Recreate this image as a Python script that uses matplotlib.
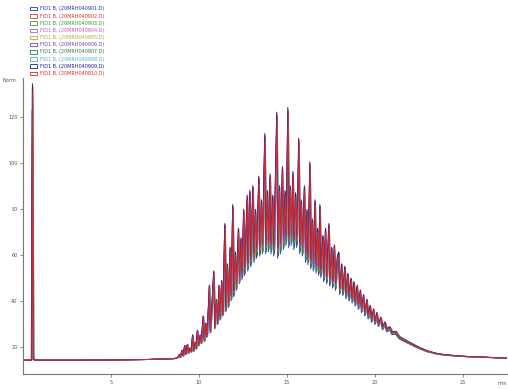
import matplotlib.pyplot as plt
from matplotlib.patches import Patch
import numpy as np

# retention time (min) and detector signal (Norm.)
t = [0.0, 0.45, 0.5, 0.55, 0.6, 0.65, 1.0, 3.0, 5.0, 7.0, 8.0, 8.6, 8.8, 8.9, 8.95,
     9.05, 9.12, 9.2, 9.28, 9.35, 9.42, 9.5, 9.58, 9.65, 9.72, 9.8, 9.86, 9.92,
     10.0, 10.08, 10.15, 10.25, 10.32, 10.4, 10.47, 10.55, 10.6, 10.66, 10.75,
     10.85, 10.92, 11.0, 11.08, 11.15, 11.22, 11.3, 11.38, 11.48, 11.55, 11.62,
     11.7, 11.78, 11.85, 11.93, 12.0, 12.08, 12.15, 12.25, 12.32, 12.4, 12.47,
     12.55, 12.62, 12.7, 12.75, 12.8, 12.9, 12.97, 13.07, 13.15, 13.22, 13.3,
     13.41, 13.48, 13.56, 13.63, 13.75, 13.82, 13.9, 13.97, 14.05, 14.12, 14.2,
     14.28, 14.35, 14.43, 14.5, 14.58, 14.65, 14.75, 14.82, 14.9, 14.97, 15.06,
     15.13, 15.2, 15.27, 15.35, 15.42, 15.5, 15.58, 15.68, 15.75, 15.82, 15.9,
     16.0, 16.08, 16.15, 16.22, 16.31, 16.38, 16.45, 16.52, 16.6, 16.68, 16.75,
     16.82, 16.88, 16.95, 17.05, 17.12, 17.2, 17.28, 17.39, 17.46, 17.55, 17.62,
     17.7, 17.78, 17.87, 17.95, 18.02, 18.12, 18.2, 18.3, 18.38, 18.47, 18.55,
     18.65, 18.73, 18.82, 18.9, 19.0, 19.08, 19.18, 19.26, 19.36, 19.45, 19.55,
     19.64, 19.74, 19.83, 19.93, 20.02, 20.12, 20.22, 20.35, 20.45, 20.58, 20.7,
     20.85, 21.0, 21.2, 21.4, 21.7, 22.0, 22.5, 23.0, 23.5, 24.0, 24.5, 25.0,
     25.5, 26.0, 26.5, 27.0, 27.5]
signal = [14.3, 14.3, 14.6, 131, 15.5, 14.4, 14.3, 14.3, 14.4, 14.6, 14.8, 15.0, 15.4, 16.8, 15.6,
          18.5, 16.2, 20.5, 17.0, 21, 17.5, 19.5, 18.0, 25, 18.5, 22, 19.5, 27,
          21, 25, 22, 33, 23, 30, 25, 37, 46, 27, 38,
          52, 29, 40, 31, 46, 33, 48, 35, 72, 37, 55,
          39, 62, 42, 80, 44, 60, 47, 70, 50, 66, 52,
          78, 54, 72, 84, 56, 86, 58, 88, 60, 78, 62,
          92, 63, 82, 64, 110, 64, 86, 65, 93, 64, 84,
          63, 90, 119, 62, 88, 64, 96, 66, 86, 68, 121,
          67, 88, 68, 94, 66, 85, 67, 108, 64, 82, 63,
          88, 60, 78, 59, 98, 57, 74, 56, 82, 55, 70,
          54, 80, 53, 67, 51, 70, 50, 72, 49, 62, 48,
          63, 47, 58, 60, 45, 55, 44.5, 54, 43, 51, 42,
          49, 41, 47.5, 39.5, 46, 38, 44, 36.5, 42, 35, 40,
          33.5, 37.5, 32, 36, 31, 34.5, 30, 32.5, 28.5, 30.5, 27.5,
          28.5, 26.2, 26.5, 24.3, 23, 21.8, 19.8, 18.2, 17.2, 16.6, 16.3, 16.0,
          15.8, 15.7, 15.5, 15.35, 15.25]

files = ["20MRH040901.D", "20MRH040902.D", "20MRH040903.D", "20MRH040904.D",
         "20MRH040905.D", "20MRH040906.D", "20MRH040907.D", "20MRH040908.D",
         "20MRH040909.D", "20MRH040910.D"]
colors = ["#2a2ad0", "#e83030", "#30a030", "#d050c8", "#b0b030",
          "#7a40c8", "#2f7a40", "#50b0d8", "#202088", "#e02828"]
# run-to-run response and retention differences
scale = [0.93, 1.02, 0.96, 1.00, 0.97, 1.01, 0.95, 0.99, 1.03, 1.0]
shift = [-0.03, 0.015, 0.0, -0.01, 0.02, -0.02, 0.01, 0.025, -0.015, 0.0]

tt = np.array(t)
ss = np.array(signal)
base = 14.3

fig = plt.figure(figsize=(5.08, 3.9), dpi=100)
ax = fig.add_axes([23/508, 1 - 374/390, 484/508, 296/390])

for i in range(len(files)):
    ax.plot(tt + shift[i], base + (ss - base) * scale[i], color=colors[i], lw=0.7)

ax.set_xlim(0, 27.5)
ax.set_ylim(8.3, 137)
ax.set_xticks([5, 10, 15, 20, 25])
ax.set_yticks([20, 40, 60, 80, 100, 120])
ax.tick_params(labelsize=3.5, colors="#555555", length=2.5, width=0.5, pad=1.5)
for s in ["top", "right"]:
    ax.spines[s].set_visible(False)
for s in ["left", "bottom"]:
    ax.spines[s].set_color("#777777")
    ax.spines[s].set_linewidth(0.8)
ax.text(-0.012, 0.99, "Norm.", transform=ax.transAxes, ha="right", va="center",
        fontsize=3.5, color="#555555")
ax.text(1.0, -0.025, "min", transform=ax.transAxes, ha="right", va="top",
        fontsize=3.5, color="#555555")

handles = [Patch(facecolor="white", edgecolor=c, lw=0.6) for c in colors]
labels = ["FID1 B, (" + f + ")" for f in files]
fig.legend(handles, labels, loc="upper left", bbox_to_anchor=(26/508, 1 - 2/390),
           frameon=False, fontsize=3.5, handlelength=1.4, handleheight=0.7,
           labelspacing=0.45, handletextpad=0.6, labelcolor=colors)

fig.savefig("out.png", dpi=100)
